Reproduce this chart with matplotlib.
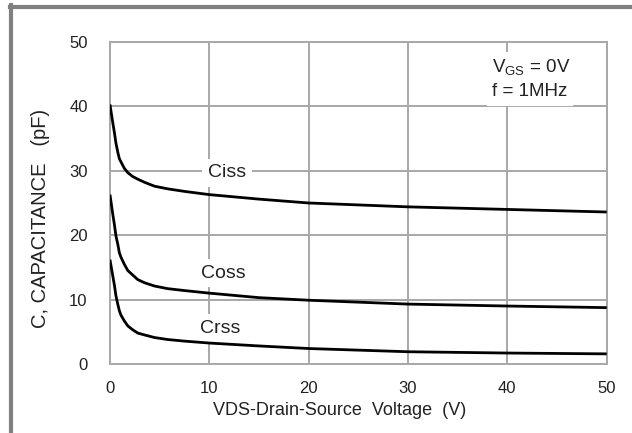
import matplotlib
matplotlib.use("Agg")
import matplotlib.pyplot as plt
from matplotlib.lines import Line2D

plt.rcParams['font.family'] = ['Liberation Sans', 'DejaVu Sans']
plt.rcParams['mathtext.fontset'] = 'custom'
plt.rcParams['mathtext.rm'] = 'Liberation Sans'

# tension drain-source (V)
vds = [0, 0.27, 0.45, 0.6, 0.8, 0.94, 1.1, 1.44, 1.8, 2.3, 2.8, 3.5, 4.5, 5.8, 7.5,
       10, 15, 20, 30, 40, 50]

# capacites (pF)
ciss = [40.3, 37.6, 35.9, 34.3, 32.8, 31.9, 31.4, 30.4, 29.7, 29.1, 28.7, 28.2, 27.6, 27.2, 26.8,
        26.3, 25.6, 25.0, 24.4, 24.0, 23.6]
coss = [26.3, 23.4, 21.6, 19.9, 18.5, 17.3, 16.6, 15.5, 14.5, 13.8, 13.1, 12.6, 12.1, 11.7, 11.4,
        11.0, 10.3, 9.9, 9.3, 9.0, 8.75]
crss = [16.2, 13.8, 12.2, 10.6, 9.2, 8.3, 7.6, 6.7, 5.9, 5.3, 4.8, 4.5, 4.1, 3.8, 3.55,
        3.25, 2.8, 2.4, 1.9, 1.7, 1.57]

x_ticks = [0, 10, 20, 30, 40, 50]
y_ticks = [0, 10, 20, 30, 40, 50]

grid_gray = '#a8a8a8'
txt = '#222222'

fig = plt.figure(figsize=(6.32, 4.33), dpi=100)
ax = fig.add_axes([0.174, 0.1594, 0.786, 0.7436])

# courbes au-dessus des etiquettes
for serie in (ciss, coss, crss):
    ax.plot(vds, serie, color='black', lw=2.0, solid_capstyle='butt', zorder=5)

ax.set_xlim(0, 50)
ax.set_ylim(0, 50)
ax.set_xticks(x_ticks)
ax.set_yticks(y_ticks)
ax.grid(True, color=grid_gray, lw=1.4)
ax.set_axisbelow(True)
ax.tick_params(length=0, labelsize=12, labelcolor=txt)
ax.tick_params(axis='y', pad=16)
ax.tick_params(axis='x', pad=12)
for sp in ax.spines.values():
    sp.set_color(grid_gray)
    sp.set_linewidth(1.4)

# noms des courbes, fond blanc pour cacher la grille
boite = dict(facecolor='white', edgecolor='none', pad=4)
ax.text(9.86, 29.7, 'Ciss', fontsize=14, color=txt, va='center', ha='left', bbox=boite, zorder=4)
ax.text(9.2, 14.1, 'Coss', fontsize=14, color=txt, va='center', ha='left', bbox=boite, zorder=4)
ax.text(9.1, 5.5, 'Crss', fontsize=14, color=txt, va='center', ha='left', bbox=boite, zorder=4)

ax.text(38.5, 46.0, r'V$_{\mathrm{GS}}$ = 0V', fontsize=13.5, color=txt, va='center', ha='left',
        bbox=boite, zorder=4)
ax.text(38.5, 42.3, 'f = 1MHz', fontsize=13.5, color=txt, va='center', ha='left',
        bbox=boite, zorder=4)

ax.set_xlabel('VDS-Drain-Source  Voltage  (V)', fontsize=13, color=txt)
ax.set_ylabel('C, CAPACITANCE   (pF)', fontsize=14.5, color=txt)
ax.xaxis.set_label_coords(0.463, -0.118)
ax.yaxis.set_label_coords(-0.121, 0.453)

# cadre gris en haut et a gauche
fig.add_artist(Line2D([0.0158, 1.0], [0.984, 0.984], color='#808080', lw=3, transform=fig.transFigure))
fig.add_artist(Line2D([0.0174, 0.0174], [0.0, 0.988], color='#808080', lw=3, transform=fig.transFigure))

fig.savefig('out.png', dpi=100)
